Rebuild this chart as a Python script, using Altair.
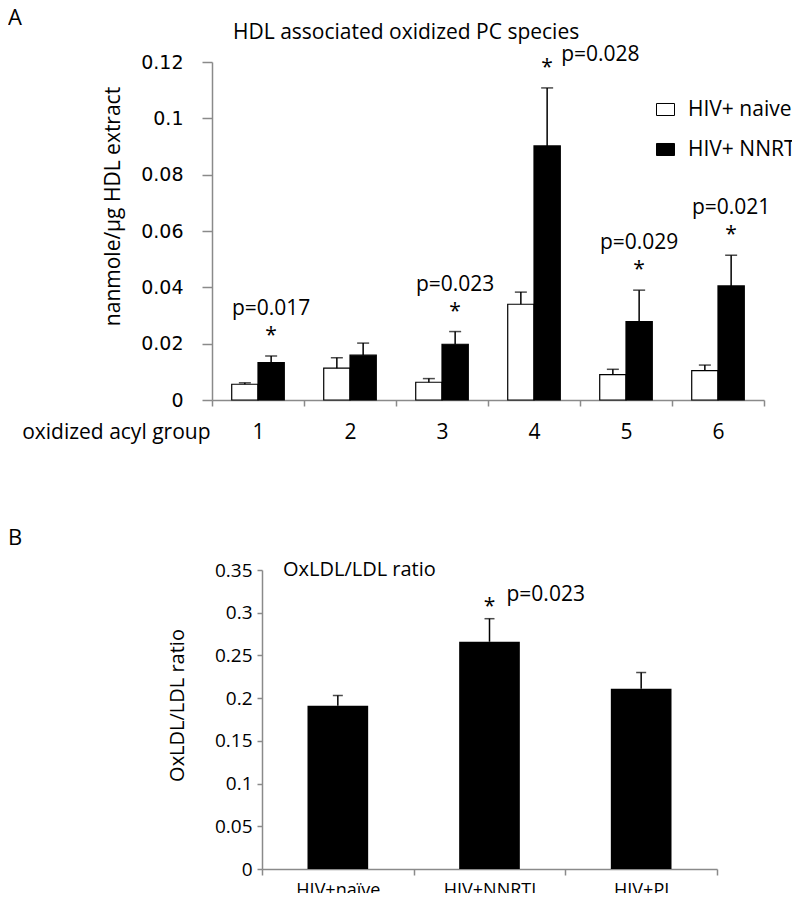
import altair as alt
import pandas as pd

# ---------------- data ----------------
groups = ["1", "2", "3", "4", "5", "6"]
series = ["HIV+ naive", "HIV+ NNRTI"]
naive_mean = [0.0056, 0.0113, 0.0063, 0.0340, 0.0090, 0.0104]
naive_err = [0.0005, 0.0037, 0.0013, 0.0043, 0.0019, 0.0020]
nnrti_mean = [0.0133, 0.0159, 0.0198, 0.0902, 0.0278, 0.0405]
nnrti_err = [0.0023, 0.0043, 0.0045, 0.0206, 0.0112, 0.0109]
p_labels = ["p=0.017", "", "p=0.023", "p=0.028", "p=0.029", "p=0.021"]

b_cats = ["HIV+naïve", "HIV+NNRTI", "HIV+PI"]
b_mean = [0.191, 0.266, 0.211]
b_err = [0.012, 0.027, 0.019]
b_p = ["", "p=0.023", ""]

# ---------------- tables ----------------
rows = []
for g, m, e in zip(groups, naive_mean, naive_err):
    rows.append({"group": g, "series": series[0], "mean": m, "top": m + e, "p": ""})
for g, m, e, p in zip(groups, nnrti_mean, nnrti_err, p_labels):
    rows.append({"group": g, "series": series[1], "mean": m, "top": m + e, "p": p})
dfA = pd.DataFrame(rows)
dfA_sig = dfA[dfA["p"] != ""]

dfB = pd.DataFrame({"cat": b_cats, "mean": b_mean,
                    "top": [m + e for m, e in zip(b_mean, b_err)], "p": b_p})
dfB_sig = dfB[dfB["p"] != ""]

FONT = "Open Sans"
GRAY = "#8a8a8a"

# ---------------- panel A ----------------
xA = alt.X("group:N", sort=groups,
           scale=alt.Scale(paddingInner=0, paddingOuter=0),
           axis=alt.Axis(title="oxidized acyl group", titleX=-2, titleY=32,
                         titleAlign="right", titleBaseline="middle",
                         titleFont=FONT, titleFontSize=21, titleFontWeight="normal",
                         titleColor="black", labelAngle=0, labelFont=FONT,
                         labelFontSize=21, labelColor="black", labelBaseline="middle",
                         labelPadding=26, tickBand="extent", tickSize=6,
                         tickColor=GRAY, tickWidth=1.5, domainColor=GRAY,
                         domainWidth=1.5, grid=False))
xA_plain = alt.X("group:N", sort=groups)
xoA = alt.XOffset("series:N", sort=series,
                  scale=alt.Scale(paddingInner=0, paddingOuter=0.75))
xoA_plain = alt.XOffset("series:N", sort=series)
yA = alt.Y("mean:Q", scale=alt.Scale(domain=[0, 0.12], nice=False),
           axis=alt.Axis(values=[0, 0.02, 0.04, 0.06, 0.08, 0.1, 0.12], format="~g",
                         labelFont="DejaVu Sans", labelFontSize=19, labelColor="black",
                         labelPadding=19, tickSize=10, tickColor=GRAY, tickWidth=1.5,
                         domainColor=GRAY, domainWidth=1.5, grid=False,
                         title="nanmole/µg HDL extract", titleX=-99, titleY=144,
                         titleAlign="center", titleBaseline="middle",
                         titleFont=FONT, titleFontSize=21, titleFontWeight="normal",
                         titleColor="black"))

barsA = alt.Chart(dfA).mark_bar(stroke="black", strokeWidth=1.2).encode(
    x=xA, xOffset=xoA, y=yA,
    fill=alt.Fill("series:N", sort=series,
                  scale=alt.Scale(domain=series, range=["white", "black"]),
                  legend=alt.Legend(title=None, orient="none", legendX=443, legendY=37,
                                    direction="vertical",
                                    symbolType="M-1,-0.667L1,-0.667L1,0.667L-1,0.667Z",
                                    symbolSize=324, symbolStrokeColor="black",
                                    symbolStrokeWidth=1, symbolOpacity=1,
                                    labelFont=FONT, labelFontSize=21, labelColor="black",
                                    labelOffset=12, rowPadding=18, padding=0,
                                    labelLimit=300)),
)
errA = alt.Chart(dfA).mark_rule(color="black", strokeWidth=1.5).encode(
    x=xA_plain, xOffset=xoA_plain, y="mean:Q", y2="top:Q")
capA = alt.Chart(dfA).mark_tick(color="black", thickness=1.5, size=12).encode(
    x=xA_plain, xOffset=xoA_plain, y="top:Q")
starA = alt.Chart(dfA_sig).mark_text(text="*", font=FONT, fontSize=21, dy=-20,
                                     color="black").encode(
    x=xA_plain, xOffset=xoA_plain, y="top:Q")
pA = alt.Chart(dfA_sig).transform_filter(alt.datum.group != "4").mark_text(
    font=FONT, fontSize=21, dy=-47, color="black").encode(
    x=xA_plain, xOffset=xoA_plain, y="top:Q", text="p:N")
pA4 = alt.Chart(dfA_sig).transform_filter(alt.datum.group == "4").mark_text(
    font=FONT, fontSize=21, dy=-33, dx=14, align="left", color="black").encode(
    x=xA_plain, xOffset=xoA_plain, y="top:Q", text="p:N")
titleA = alt.Chart(pd.DataFrame({"t": ["HDL associated oxidized PC species"]})).mark_text(
    font=FONT, fontSize=21, align="left", baseline="middle", color="black").encode(
    x=alt.value(21), y=alt.value(-29), text="t:N")
letterA = alt.Chart(pd.DataFrame({"t": ["A"]})).mark_text(
    font=FONT, fontSize=22, align="left", baseline="top", color="black").encode(
    x=alt.value(-204), y=alt.value(-54), text="t:N")

panelA = alt.layer(barsA, errA, capA, starA, pA, pA4, titleA, letterA).properties(
    width=552, height=338)

# ---------------- panel B ----------------
# panel B's axes start 50px right of panel A's
xB = alt.X("cat:N", sort=b_cats,
           scale=alt.Scale(paddingInner=0, paddingOuter=0, range=[50, 505]),
           axis=alt.Axis(title=None, labelAngle=0, labelFont=FONT, labelFontSize=18,
                         labelColor="black", labelPadding=6, tickBand="extent",
                         tickSize=6, tickColor=GRAY, tickWidth=1.5, domainColor=GRAY,
                         domainWidth=1.5, grid=False))
xB_plain = alt.X("cat:N", sort=b_cats)
yB = alt.Y("mean:Q", scale=alt.Scale(domain=[0, 0.35], nice=False),
           axis=alt.Axis(values=[0, 0.05, 0.1, 0.15, 0.2, 0.25, 0.3, 0.35], format="~g",
                         offset=-50,
                         labelFont=FONT, labelFontSize=19, labelColor="black",
                         labelPadding=5, tickSize=5, tickColor=GRAY, tickWidth=1.5,
                         domainColor=GRAY, domainWidth=1.5, grid=False,
                         title="OxLDL/LDL ratio", titleX=-85, titleY=135,
                         titleAlign="center", titleBaseline="middle",
                         titleFont=FONT, titleFontSize=20, titleFontWeight="normal",
                         titleColor="black"))

barsB = alt.Chart(dfB).mark_bar(color="black", width={"band": 0.4}).encode(x=xB, y=yB)
errB = alt.Chart(dfB).mark_rule(color="black", strokeWidth=1.5).encode(
    x=xB_plain, y="mean:Q", y2="top:Q")
capB = alt.Chart(dfB).mark_tick(color="black", thickness=1.5, size=10).encode(
    x=xB_plain, y="top:Q")
starB = alt.Chart(dfB_sig).mark_text(text="*", font=FONT, fontSize=21, dy=-12,
                                     color="black").encode(x=xB_plain, y="top:Q")
pB = alt.Chart(dfB_sig).mark_text(font=FONT, fontSize=21, dy=-24, dx=17, align="left",
                                  color="black").encode(x=xB_plain, y="top:Q", text="p:N")
titleB = alt.Chart(pd.DataFrame({"t": ["OxLDL/LDL ratio"]})).mark_text(
    font=FONT, fontSize=20, align="left", baseline="middle", color="black").encode(
    x=alt.value(71), y=alt.value(0), text="t:N")
letterB = alt.Chart(pd.DataFrame({"t": ["B"]})).mark_text(
    font=FONT, fontSize=22, align="left", baseline="top", color="black").encode(
    x=alt.value(-204), y=alt.value(-42), text="t:N")

panelB = alt.layer(barsB, errB, capB, starB, pB, titleB, letterB).properties(
    width=505, height=299)

chart = alt.vconcat(panelA, panelB, spacing=85).properties(
    autosize=alt.AutoSizeParams(type="none"),
    padding={"left": 204, "top": 54, "right": 580, "bottom": 831},
).configure_view(stroke=None)

chart.save("out.html", embed_options={"renderer": "svg", "actions": False})
